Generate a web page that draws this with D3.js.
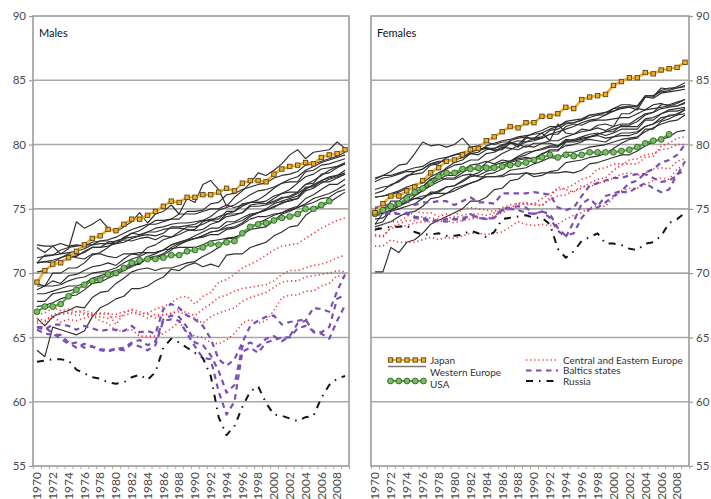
<!DOCTYPE html>
<html>
<head>
<meta charset="utf-8">
<script src="https://cdn.jsdelivr.net/npm/d3@7"></script>
<style>
  html, body { margin: 0; padding: 0; background: #fff; }
  svg { display: block; font-family: Lato, "Open Sans", sans-serif; }
</style>
</head>
<body>
<svg id="chart" width="711" height="499"></svg>
<script>
// ---- categories and ticks ----
const years = d3.range(1970, 2010);
const yearLabels = years.filter(y => y % 2 === 0);
const yTicks = [55, 60, 65, 70, 75, 80, 85, 90];

// ---- life expectancy at birth, males ----
const maleJapan = [69.3,70.2,70.7,70.8,71.2,71.7,72.2,72.7,72.9,73.4, 73.3,73.8,74.2,74.2,74.5,74.8,75.2,75.6,75.5,75.9, 75.9,76.1,76.1,76.3,76.6,76.4,77.0,77.2,77.2,77.1, 77.7,78.1,78.3,78.4,78.6,78.5,79.0,79.2,79.3,79.6];
const maleUSA = [67.0,67.4,67.4,67.6,68.2,68.7,69.1,69.4,69.5,69.9, 70.0,70.4,70.8,71.0,71.1,71.1,71.2,71.4,71.4,71.7, 71.8,72.0,72.3,72.2,72.4,72.5,73.1,73.6,73.8,73.9, 74.1,74.3,74.4,74.6,75.0,75.0,75.3,75.6];
const maleWestern = [
  [72.2,72.1,72.1,72.3,72.1,72.2,72.1,72.4,72.5,72.6, 72.8,73.1,73.4,73.6,73.8,73.8,74.0,74.2,74.2,74.8, 74.8,74.9,75.4,75.5,76.1,76.2,76.5,76.7,76.9,77.0, 77.4,77.6,77.7,77.9,78.4,78.5,78.7,78.9,79.1,79.4],
  [71.2,71.3,71.4,71.5,71.6,71.7,71.9,72.2,72.3,72.3, 72.3,72.6,72.5,72.7,72.8,72.6,72.9,72.8,73.0,73.3, 73.4,74.0,74.2,74.2,74.8,74.8,75.4,75.5,75.5,75.6, 76.0,76.2,76.5,77.0,77.5,77.7,78.1,78.2,78.3,78.6],
  [70.8,70.9,70.8,71.2,71.5,71.4,71.6,72.0,72.0,72.4, 72.5,72.7,72.8,72.9,73.0,72.9,73.1,73.6,73.6,73.7, 73.8,74.1,74.1,74.0,74.6,74.6,74.7,75.2,75.2,75.3, 75.5,75.8,76.0,76.3,76.9,77.2,77.6,78.0,78.3,78.5],
  [70.8,70.9,71.0,71.2,71.4,71.2,71.1,71.5,71.5,71.3, 71.2,71.5,71.5,71.6,71.6,71.6,71.8,71.9,72.0,72.0, 72.0,72.2,72.5,72.6,72.7,72.7,73.1,73.6,73.9,74.2, 74.5,74.7,74.9,75.1,75.4,75.8,76.0,76.2,76.5,76.9],
  [72.0,71.6,72.1,71.5,71.9,74.0,73.5,73.8,74.2,73.5, 73.2,73.6,74.0,74.7,73.9,74.6,74.8,75.3,74.6,75.8, 75.5,76.9,77.2,76.5,75.2,75.9,76.4,77.0,77.8,77.6, 78.0,78.5,79.2,79.6,78.9,79.4,79.5,79.6,80.2,79.7],
  [70.1,70.2,70.6,70.9,71.2,71.3,71.7,72.0,72.0,72.1, 72.3,72.4,72.7,72.9,73.2,73.5,73.6,73.8,73.9,73.9, 74.0,74.1,74.4,74.9,75.1,75.3,75.7,76.1,76.4,76.5, 76.7,77.0,77.3,77.5,78.0,78.3,78.6,78.8,79.0,79.2],
  [68.4,68.4,68.6,68.8,69.0,69.0,69.2,69.6,69.8,70.0, 70.2,70.4,70.7,70.7,71.2,71.3,71.5,72.0,72.3,72.5, 72.7,72.9,73.2,73.3,73.7,73.9,74.1,74.5,74.7,74.9, 75.2,75.4,75.7,75.8,76.7,76.7,77.2,77.5,77.6,77.8],
  [69.0,69.0,69.4,69.2,69.8,69.9,70.2,70.5,70.6,70.8, 70.6,71.1,71.5,71.4,72.0,72.2,72.6,72.8,73.2,73.6, 73.6,73.8,74.1,74.4,74.6,74.8,75.2,75.5,75.7,76.1, 76.6,77.0,77.1,77.1,77.9,78.0,78.4,78.5,78.7,78.9],
  [69.2,69.0,70.0,70.0,70.4,70.4,70.8,71.4,71.6,72.0, 72.5,72.7,73.1,73.0,73.2,73.2,73.4,73.5,73.5,73.4, 73.3,73.4,73.8,74.0,74.4,74.5,74.7,75.3,75.4,75.4, 75.8,76.2,76.3,76.3,76.9,77.0,77.7,77.8,78.2,78.5],
  [68.7,69.0,69.0,69.1,69.4,69.6,69.7,70.0,70.1,70.2, 70.4,70.8,71.1,71.3,71.6,71.6,71.8,72.2,72.4,72.6, 72.9,73.2,73.5,73.5,74.0,74.0,74.3,74.6,74.7,75.0, 75.4,75.6,75.8,76.0,76.5,76.9,77.2,77.4,77.6,78.0],
  [67.4,67.5,67.7,68.0,68.2,68.3,68.7,69.2,69.3,69.6, 69.9,70.2,70.5,70.8,71.3,71.5,71.8,72.2,72.4,72.6, 72.7,72.9,73.2,73.3,73.5,73.6,73.9,74.4,74.7,74.9, 75.1,75.5,75.6,75.8,76.4,76.6,77.0,77.3,77.5,77.7],
  [67.8,67.8,68.4,68.5,68.6,68.8,69.0,69.5,69.6,69.9, 70.0,70.3,70.6,70.7,71.2,71.2,71.4,71.8,72.2,72.5, 72.7,72.8,73.0,73.0,73.4,73.5,73.8,74.2,74.4,74.4, 74.6,74.7,75.0,75.2,75.8,76.1,76.5,76.9,76.9,77.3],
  [66.5,65.9,66.6,66.9,67.1,67.4,67.3,68.1,68.5,68.6, 69.2,69.6,70.1,70.3,70.4,70.2,70.4,70.4,70.6,70.8, 70.9,71.3,71.6,72.0,72.7,72.8,73.0,73.4,73.5,73.6, 74.1,74.6,74.8,75.1,75.3,75.5,75.8,75.9,76.3,76.5],
  [64.0,63.5,65.8,65.6,65.4,65.2,65.5,66.6,67.3,67.6, 68.0,68.2,68.8,68.8,69.0,69.4,69.7,70.3,70.2,70.6, 70.8,70.5,70.7,70.5,71.4,71.5,71.5,72.0,72.2,72.4, 72.9,73.2,73.6,73.7,74.5,74.9,75.2,75.5,75.9,76.3],
  [70.8,71.4,71.4,71.8,72.0,72.1,72.2,72.2,72.5,72.5, 72.3,72.8,73.1,73.3,73.7,74.1,74.1,74.2,74.6,74.6, 74.6,74.8,75.0,75.0,75.3,75.1,75.3,75.5,75.5,75.4, 75.6,75.9,75.9,76.2,76.6,76.8,77.1,77.1,77.4,77.7]
];
const maleCentralEastern = [
  [66.1,66.2,66.7,66.8,66.9,67.0,67.1,66.9,66.8,66.8, 66.8,67.0,67.1,66.8,66.9,67.2,67.4,67.7,68.1,68.2, 67.6,68.2,68.5,69.3,69.5,69.9,70.4,70.7,71.0,71.4, 71.8,72.1,72.2,72.3,72.7,73.1,73.5,73.8,74.1,74.3],
  [66.8,66.9,67.3,67.1,67.2,67.0,66.9,66.8,66.9,66.9, 66.0,66.9,67.2,67.0,66.8,66.5,66.8,66.8,67.2,66.9, 66.7,67.2,67.6,68.1,68.3,68.6,68.8,68.9,69.0,69.1, 69.4,69.9,70.2,70.2,70.4,70.6,70.7,70.9,71.2,71.4],
  [66.5,66.3,66.8,66.9,66.9,66.7,66.8,66.7,66.6,66.5, 66.6,66.7,66.9,66.8,66.5,66.8,66.7,66.9,67.0,66.7, 66.5,66.1,66.6,66.9,67.1,67.3,67.8,68.1,68.3,68.5, 68.9,69.3,69.4,69.4,69.7,69.8,69.9,70.0,70.2,70.1],
  [66.3,66.0,66.6,66.2,66.4,66.3,66.5,66.7,66.3,66.1, 65.5,65.5,65.6,65.1,65.1,65.1,65.3,65.7,66.2,65.4, 65.1,65.0,64.6,64.5,64.8,65.3,66.1,66.4,66.1,66.3, 67.1,68.1,68.3,68.3,68.6,68.6,69.0,69.2,69.8,69.6]
];
const maleBaltic = [
  [65.8,65.6,66.0,66.0,65.9,65.6,65.9,65.7,65.5,65.6, 65.6,65.5,65.9,65.4,65.5,65.3,67.2,67.6,67.3,66.7, 66.4,65.9,64.9,63.3,62.8,63.3,64.6,65.9,66.3,66.6, 66.7,66.0,66.2,66.3,66.4,65.4,65.3,64.9,66.3,67.5],
  [65.6,65.3,65.2,65.2,64.6,64.2,64.5,64.3,64.1,64.0, 64.1,64.0,64.5,64.3,64.0,64.4,66.3,66.4,66.3,65.3, 64.3,63.4,63.3,60.8,59.0,60.0,63.9,64.2,63.8,64.6, 64.8,65.0,65.0,65.7,65.9,65.5,65.4,65.8,68.0,68.3],
  [65.8,65.8,65.3,64.9,64.5,64.6,64.2,64.3,64.0,63.9, 64.1,64.2,64.6,64.8,64.4,64.7,66.4,66.7,66.6,65.8, 64.6,64.4,63.6,62.4,60.7,61.3,64.3,64.6,64.3,64.9, 65.1,64.7,65.1,66.1,66.3,67.3,67.2,67.0,68.6,69.9]
];
const maleRussia = [63.1,63.2,63.3,63.3,63.2,62.5,62.2,61.9,61.8,61.5, 61.4,61.5,61.9,62.1,61.7,62.3,64.2,64.9,64.6,64.2, 63.8,63.4,62.0,58.8,57.4,58.1,59.6,60.8,61.2,59.9, 59.0,58.9,58.7,58.5,58.8,58.9,60.3,61.3,61.8,62.0];

// ---- life expectancy at birth, females ----
const femaleJapan = [74.7,75.4,76.0,76.0,76.4,76.7,77.2,77.8,78.2,78.7, 78.8,79.2,79.6,79.7,80.3,80.6,81.0,81.4,81.3,81.7, 81.7,82.2,82.2,82.4,82.9,82.8,83.5,83.7,83.8,83.9, 84.6,84.9,85.2,85.2,85.6,85.5,85.8,85.9,86.0,86.4];
const femaleUSA = [74.6,74.9,75.2,75.4,75.8,76.3,76.6,77.0,77.5,77.8, 77.8,78.1,78.1,78.2,78.2,78.2,78.3,78.4,78.5,78.6, 78.8,79.0,79.2,79.0,79.2,79.1,79.2,79.4,79.4,79.4, 79.4,79.5,79.6,79.8,80.1,80.3,80.4,80.8];
const femaleWestern = [
  [77.1,77.4,77.5,77.7,77.9,77.9,78.1,78.5,78.7,78.7, 78.8,79.0,79.4,79.6,79.7,79.7,79.9,80.2,80.0,80.6, 80.4,80.5,80.8,80.8,81.4,81.6,81.5,81.8,81.9,81.9, 82.0,82.1,82.1,82.4,82.7,82.8,82.9,83.0,83.2,83.5],
  [77.4,77.6,77.6,77.8,78.0,78.2,78.3,78.7,78.9,79.0, 79.2,79.4,79.5,79.6,79.8,79.5,79.8,79.7,79.6,79.9, 79.8,80.1,80.3,80.3,80.6,80.8,81.2,81.1,81.3,81.1, 81.4,81.6,81.6,82.0,82.4,82.5,82.8,82.9,83.0,83.2],
  [76.5,76.7,76.8,77.2,77.6,77.7,77.8,78.4,78.5,79.0, 79.2,79.3,79.6,79.6,79.7,79.6,79.6,80.1,80.0,79.8, 80.1,80.1,80.1,79.9,80.4,80.3,80.4,80.6,80.7,80.5, 80.6,80.7,80.7,80.9,81.4,81.6,81.9,82.3,82.3,82.7],
  [75.9,76.0,76.1,76.3,76.6,76.6,76.7,77.3,77.4,77.3, 77.3,77.6,77.7,77.5,77.5,77.5,77.5,77.7,77.7,77.8, 77.7,77.8,77.8,77.8,77.9,77.8,78.0,78.5,78.6,78.8, 79.0,79.2,79.2,79.5,79.9,80.2,80.4,80.6,81.0,81.1],
  [77.3,77.6,77.9,78.4,78.5,79.3,80.2,79.9,80.0,79.8, 80.0,80.5,79.8,79.9,80.2,80.0,80.2,80.2,79.8,80.5, 80.5,80.9,80.3,81.6,80.9,80.8,81.0,81.1,81.5,81.6, 81.4,82.4,82.4,82.8,82.7,83.1,83.2,83.0,83.0,83.3],
  [76.2,76.4,76.9,77.1,77.5,77.9,78.1,78.5,78.6,78.8, 78.8,79.0,79.3,79.4,79.9,80.1,80.3,80.4,80.6,80.7, 80.8,80.9,81.2,81.4,81.7,81.7,81.9,82.1,82.3,82.5, 82.6,82.8,82.9,83.0,83.8,83.8,84.1,84.2,84.4,84.6],
  [75.9,76.0,76.2,76.4,76.7,76.9,77.0,77.5,77.8,78.1, 78.4,78.5,78.8,78.8,79.3,79.4,79.7,80.3,80.5,80.6, 80.9,81.1,81.4,81.4,81.8,81.9,82.0,82.3,82.4,82.5, 82.8,82.9,83.0,82.9,83.8,83.8,84.2,84.4,84.4,84.5],
  [74.9,75.0,75.3,75.2,75.9,76.1,76.4,76.8,77.1,77.4, 77.4,77.8,78.2,78.0,78.6,78.9,79.3,79.6,79.9,80.2, 80.3,80.5,80.8,81.0,81.2,81.4,81.7,81.9,82.0,82.3, 82.6,82.9,82.9,82.7,83.7,83.6,84.0,84.1,84.2,84.3],
  [74.8,74.6,75.6,75.6,76.1,76.2,76.7,77.3,77.6,78.2, 78.6,78.8,79.3,79.2,79.6,79.7,80.0,80.1,80.3,80.2, 80.5,80.6,81.1,81.2,81.6,81.7,81.9,82.3,82.3,82.3, 82.8,83.1,83.1,83.0,83.7,83.7,84.4,84.3,84.5,84.8],
  [75.0,75.1,75.1,75.3,75.5,75.8,75.8,76.2,76.2,76.2, 76.6,76.8,77.0,77.2,77.5,77.5,77.6,78.0,78.1,78.2, 78.5,78.7,79.0,78.9,79.4,79.4,79.6,79.8,79.9,80.0, 80.2,80.4,80.5,80.6,81.0,81.3,81.6,81.8,81.9,82.3],
  [73.6,73.8,74.0,74.4,74.7,74.8,75.2,75.8,75.9,76.2, 76.4,76.7,77.0,77.2,77.7,77.8,78.1,78.6,78.8,78.9, 78.9,79.2,79.6,79.6,79.9,80.0,80.2,80.6,80.8,81.0, 81.2,81.4,81.4,81.4,82.0,82.1,82.4,82.7,82.8,82.9],
  [74.2,74.3,74.8,75.0,75.2,75.4,75.8,76.3,76.3,76.7, 76.8,77.1,77.5,77.6,77.9,78.1,78.3,78.7,79.0,79.2, 79.5,79.6,79.8,79.8,80.3,80.4,80.6,80.8,80.9,80.7, 80.9,81.2,81.2,81.2,81.9,81.9,82.4,82.6,82.6,82.8],
  [73.8,74.0,74.9,75.2,75.5,76.0,76.4,76.9,77.3,77.6, 77.6,78.0,78.4,78.5,78.7,78.5,78.8,78.7,78.9,79.0, 78.9,79.3,79.5,79.5,80.2,80.3,80.5,80.6,80.8,81.0, 81.0,81.5,81.5,81.8,82.3,82.5,83.1,83.1,83.3,83.5],
  [70.1,70.1,72.0,71.6,72.4,72.6,73.1,73.8,74.1,74.4, 74.7,75.0,75.6,75.6,75.9,76.5,76.6,77.2,77.3,77.8, 77.5,77.6,77.9,78.0,78.6,78.7,78.8,79.0,79.1,79.3, 79.7,80.1,80.4,80.5,81.2,81.2,81.8,82.0,82.3,82.4],
  [73.8,74.7,74.9,75.2,75.6,75.8,76.0,76.1,76.4,76.7, 76.8,77.2,77.6,77.8,78.2,78.4,78.6,78.7,79.1,79.4, 79.5,79.7,79.9,79.9,80.2,80.2,80.3,80.4,80.3,80.2, 80.6,80.9,80.9,81.0,81.4,81.6,82.1,82.2,82.4,82.7]
];
const femaleCentralEastern = [
  [73.0,72.9,73.5,73.6,73.7,73.9,74.0,74.0,74.0,74.1, 73.9,74.1,74.2,74.3,74.2,74.5,74.7,75.0,75.3,75.4, 75.4,75.8,76.2,76.5,76.6,76.9,77.3,77.5,78.1,78.2, 78.5,78.5,78.5,78.5,79.0,79.1,79.9,80.1,80.5,80.6],
  [73.3,73.8,74.0,74.0,74.4,74.8,74.7,74.7,74.4,74.6, 74.4,75.0,75.1,75.0,74.9,74.8,75.1,75.3,75.4,75.5, 75.3,75.3,75.7,76.0,76.1,76.4,76.6,77.0,77.3,77.4, 78.0,78.4,78.8,78.9,79.2,79.3,79.6,79.7,80.0,80.0],
  [72.9,72.8,73.6,73.8,74.1,74.1,74.4,74.3,74.2,74.3, 74.3,74.5,74.6,74.6,74.5,74.7,74.9,75.0,75.5,75.3, 75.4,75.2,75.9,76.7,76.5,76.3,76.8,76.7,77.0,77.1, 77.4,77.7,77.8,77.6,77.8,78.1,78.2,78.1,78.7,78.9],
  [72.1,72.1,72.6,72.4,72.4,72.4,72.6,72.8,72.6,72.8, 72.7,72.9,73.1,73.1,73.0,73.1,73.2,73.6,74.0,73.8, 73.7,73.8,73.7,73.8,74.2,74.5,74.7,75.1,75.2,75.2, 75.9,76.4,76.6,76.6,76.9,77.2,77.4,77.3,78.1,78.4]
];
const femaleBaltic = [
  [75.1,75.2,75.4,75.5,75.6,75.3,75.5,75.5,75.6,75.6, 75.3,75.6,75.9,75.5,75.5,75.4,76.2,76.2,76.2,76.2, 76.3,76.2,76.1,75.1,74.9,75.1,76.0,76.8,77.0,77.2, 77.4,77.4,77.6,77.7,77.7,77.4,77.1,77.2,77.6,78.7],
  [74.8,74.6,74.8,74.6,74.6,74.4,74.3,74.1,74.1,74.0, 74.2,74.1,74.6,74.3,74.2,74.3,75.0,75.1,75.2,75.1, 74.6,74.8,74.6,73.5,72.9,73.1,74.3,75.0,75.1,75.5, 76.0,76.3,76.3,76.7,77.0,76.6,76.3,76.5,77.7,78.0],
  [74.5,74.6,74.6,74.6,74.7,74.3,74.2,74.0,74.1,74.2, 74.2,74.3,74.4,74.4,74.2,74.3,74.9,75.0,74.9,74.7, 74.6,74.8,74.3,73.3,72.8,74.0,75.4,75.8,75.2,76.0, 76.2,76.4,77.0,77.2,77.8,78.1,78.6,78.8,79.2,80.0]
];
const femaleRussia = [73.4,73.5,73.6,73.6,73.7,73.2,73.0,73.0,73.1,72.9, 72.9,73.0,73.3,73.1,72.8,73.2,74.2,74.3,74.4,74.5, 74.3,74.3,73.8,71.9,71.2,71.7,72.5,72.8,73.1,72.3, 72.3,72.2,71.9,71.8,72.3,72.4,72.9,73.9,74.2,74.7];

// ---- legend entries ----
const legendLeft = ["Japan", "Western Europe", "USA"];
const legendRight = ["Central and Eastern Europe", "Baltics states", "Russia"];

// ---- drawing styles ----
const ORANGE = "#f0ad2c", ORANGE_EDGE = "#5c4512";
const GREEN = "#5aa447", GREEN_FILL = "#78bd62", GREEN_EDGE = "#2c6424";
const groupStyle = {
  western: { stroke: "#2e2e2e", width: 1.15, dash: null },
  cee:     { stroke: "#e8404a", width: 1.6, dash: "1.3 2.8" },
  baltic:  { stroke: "#7b4fb4", width: 2.2, dash: "5.5 4.5" },
  russia:  { stroke: "#141414", width: 2.0, dash: "7 6 1.5 6" }
};

const svg = d3.select("#chart");
const plotTop = 16, plotBottom = 466;
const y = d3.scaleLinear().domain([55, 90]).range([plotBottom, plotTop]);
const GRID = "#a8a8a8";

function drawPanel(cfg) {
  const x = d3.scaleBand().domain(years).range([cfg.x0, cfg.x1]).padding(0);
  const xc = yr => x(yr) + x.bandwidth() / 2;
  const g = svg.append("g");

  // horizontal grid lines
  g.append("g").selectAll("line")
    .data(yTicks.filter(t => t > 55 && t < 90))
    .join("line")
    .attr("x1", cfg.x0).attr("x2", cfg.x1)
    .attr("y1", d => y(d)).attr("y2", d => y(d))
    .attr("stroke", GRID).attr("stroke-width", 1.6);

  // y axis
  const yAxis = (cfg.side === "left" ? d3.axisLeft(y) : d3.axisRight(y))
    .tickValues(yTicks).tickSize(4).tickPadding(3);
  const ya = g.append("g")
    .attr("transform", `translate(${cfg.side === "left" ? cfg.x0 : cfg.x1},0)`)
    .call(yAxis);
  ya.select(".domain").remove();
  ya.selectAll(".tick line").attr("stroke", "#999").attr("stroke-width", 1.2);
  ya.selectAll(".tick text").attr("fill", "#4a4a4a")
    .style("font-size", "11.5px").style("font-family", "Lato, 'Open Sans', sans-serif");

  // minor year ticks along the bottom
  const xb = d3.scaleLinear().domain([1969.5, 2009.5]).range([cfg.x0, cfg.x1]);
  const minor = g.append("g").attr("transform", `translate(0,${plotBottom})`)
    .call(d3.axisBottom(xb).tickValues(d3.range(1969.5, 2010, 1)).tickSize(3).tickFormat(""));
  minor.select(".domain").remove();
  minor.selectAll(".tick line").attr("stroke", "#aaa").attr("stroke-width", 1);

  // year labels, rotated
  const xa = g.append("g").attr("transform", `translate(0,${plotBottom})`)
    .call(d3.axisBottom(x).tickValues(yearLabels).tickSize(0));
  xa.select(".domain").remove();
  xa.selectAll(".tick text")
    .attr("transform", "rotate(-90)")
    .attr("text-anchor", "end")
    .attr("x", -6).attr("y", 0).attr("dy", "0.36em")
    .attr("fill", "#4a4a4a")
    .style("font-size", "12px").style("font-family", "Lato, 'Open Sans', sans-serif");

  const line = d3.line().x((d, i) => xc(years[i])).y(d => y(d));

  function drawGroup(series, st) {
    g.append("g").selectAll("path").data(series).join("path")
      .attr("d", line)
      .attr("fill", "none")
      .attr("stroke", st.stroke)
      .attr("stroke-width", st.width)
      .attr("stroke-dasharray", st.dash)
      .attr("stroke-linejoin", "round");
  }

  drawGroup(cfg.western, groupStyle.western);
  drawGroup(cfg.cee, groupStyle.cee);
  drawGroup(cfg.baltic, groupStyle.baltic);
  drawGroup([cfg.russia], groupStyle.russia);

  // USA: green line with circles
  g.append("path").datum(cfg.usa).attr("d", line)
    .attr("fill", "none").attr("stroke", GREEN).attr("stroke-width", 2.2);
  g.append("g").selectAll("circle").data(cfg.usa).join("circle")
    .attr("cx", (d, i) => xc(years[i])).attr("cy", d => y(d)).attr("r", 2.9)
    .attr("fill", GREEN_FILL).attr("stroke", GREEN_EDGE).attr("stroke-width", 0.9);

  // Japan: orange line with squares
  g.append("path").datum(cfg.japan).attr("d", line)
    .attr("fill", "none").attr("stroke", ORANGE).attr("stroke-width", 2.6);
  g.append("g").selectAll("rect").data(cfg.japan).join("rect")
    .attr("x", (d, i) => xc(years[i]) - 2.2).attr("y", d => y(d) - 2.2)
    .attr("width", 4.4).attr("height", 4.4)
    .attr("fill", ORANGE).attr("stroke", ORANGE_EDGE).attr("stroke-width", 0.9);

  // frame
  g.append("rect")
    .attr("x", cfg.x0).attr("y", plotTop)
    .attr("width", cfg.x1 - cfg.x0).attr("height", plotBottom - plotTop)
    .attr("fill", "none").attr("stroke", "#9c9c9c").attr("stroke-width", 1.6);

  // panel title
  g.append("text").attr("x", cfg.x0 + 6).attr("y", plotTop + 21)
    .attr("fill", "#111").style("font-size", "11px")
    .text(cfg.title);

  return g;
}

drawPanel({
  title: "Males", side: "left", x0: 33, x1: 349,
  japan: maleJapan, usa: maleUSA, western: maleWestern,
  cee: maleCentralEastern, baltic: maleBaltic, russia: maleRussia
});
drawPanel({
  title: "Females", side: "right", x0: 371, x1: 689,
  japan: femaleJapan, usa: femaleUSA, western: femaleWestern,
  cee: femaleCentralEastern, baltic: femaleBaltic, russia: femaleRussia
});

// ---- legend (inside the female panel) ----
const leg = svg.append("g").style("font-size", "10px").attr("fill", "#333");
const rowY = [360, 370.5, 381];
const sampleL = [388, 426], sampleR = [526, 558];
const sx = d3.scalePoint().domain(d3.range(5)).range([390.5, 423.5]);

// Japan sample
leg.append("line").attr("x1", sampleL[0]).attr("x2", sampleL[1])
  .attr("y1", rowY[0]).attr("y2", rowY[0]).attr("stroke", ORANGE).attr("stroke-width", 2.2);
leg.append("g").selectAll("rect").data(d3.range(5)).join("rect")
  .attr("x", d => sx(d) - 2.2).attr("y", rowY[0] - 2.2).attr("width", 4.4).attr("height", 4.4)
  .attr("fill", ORANGE).attr("stroke", ORANGE_EDGE).attr("stroke-width", 0.9);
// Western Europe sample
leg.append("line").attr("x1", sampleL[0]).attr("x2", sampleL[1])
  .attr("y1", rowY[1] - 4).attr("y2", rowY[1] - 4).attr("stroke", "#777").attr("stroke-width", 1.4);
// USA sample
leg.append("line").attr("x1", sampleL[0]).attr("x2", sampleL[1])
  .attr("y1", rowY[2]).attr("y2", rowY[2]).attr("stroke", GREEN).attr("stroke-width", 2);
leg.append("g").selectAll("circle").data(d3.range(5)).join("circle")
  .attr("cx", d => sx(d)).attr("cy", rowY[2]).attr("r", 2.9)
  .attr("fill", GREEN_FILL).attr("stroke", GREEN_EDGE).attr("stroke-width", 0.9);

leg.append("g").selectAll("text").data(legendLeft).join("text")
  .attr("x", 430).attr("y", (d, i) => [rowY[0], rowY[1] + 2, rowY[2] + 3][i] + 3.5)
  .text(d => d);

// right column samples
const rightStyles = [groupStyle.cee, groupStyle.baltic, groupStyle.russia];
leg.append("g").selectAll("line").data(rightStyles).join("line")
  .attr("x1", sampleR[0]).attr("x2", sampleR[1])
  .attr("y1", (d, i) => rowY[i]).attr("y2", (d, i) => rowY[i])
  .attr("stroke", d => d.stroke).attr("stroke-width", d => d.width)
  .attr("stroke-dasharray", d => d.dash);
leg.append("g").selectAll("text").data(legendRight).join("text")
  .attr("x", 563).attr("y", (d, i) => rowY[i] + 3.5)
  .text(d => d);
</script>
</body>
</html>
